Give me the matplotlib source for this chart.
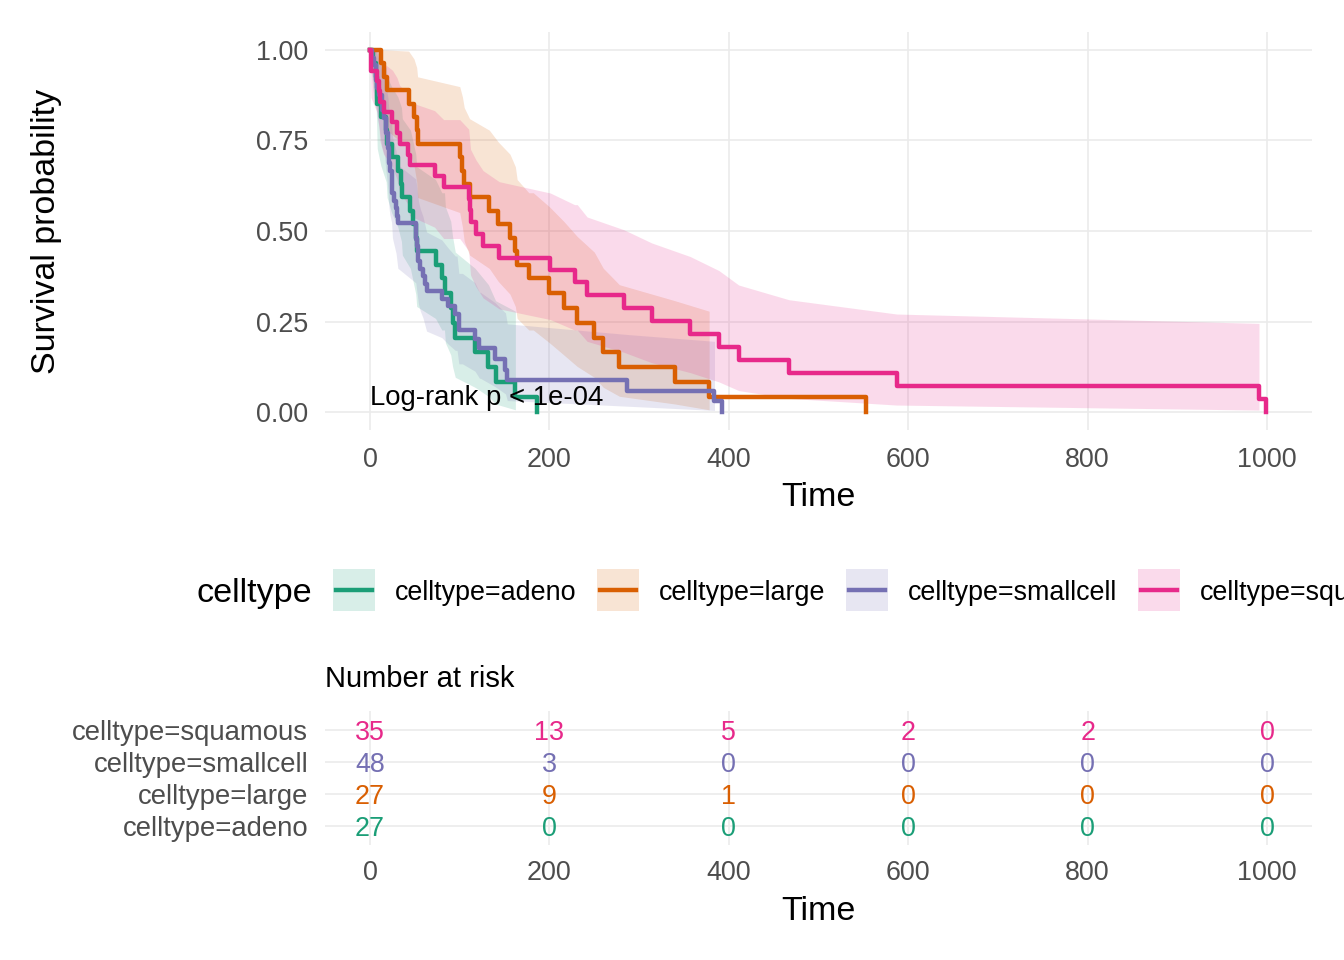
import numpy as np
import matplotlib
matplotlib.use("Agg")
import matplotlib.pyplot as plt
from matplotlib.patches import Rectangle
from matplotlib.lines import Line2D
from matplotlib.transforms import offset_copy

plt.rcParams['font.family'] = ['Liberation Sans', 'DejaVu Sans']

# ---------------- data (veteran lung cancer trial, by cell type) ----------------
groups = ["adeno", "large", "smallcell", "squamous"]
colors = ["#1B9E77", "#D95F02", "#7570B3", "#E7298A"]

adeno_time = [8, 92, 35, 117, 132, 12, 162, 3, 95, 24, 18, 83, 31, 51, 90, 52, 73,
              8, 36, 48, 7, 140, 186, 84, 19, 45, 80]
adeno_status = [1, 1, 1, 1, 1, 1, 1, 1, 1, 1, 1, 0, 1, 1, 1, 1, 1,
                1, 1, 1, 1, 1, 1, 1, 1, 1, 1]

large_time = [177, 162, 216, 553, 278, 12, 260, 200, 156, 182, 143, 105, 103, 250,
              100, 52, 164, 19, 53, 15, 43, 340, 133, 111, 231, 378, 49]
large_status = [1, 1, 1, 1, 1, 1, 1, 1, 1, 0, 1, 1, 1, 1,
                1, 1, 1, 1, 1, 1, 1, 1, 1, 1, 1, 1, 1]

smallcell_time = [30, 384, 4, 54, 13, 123, 97, 153, 59, 117, 16, 151, 22, 56, 21, 18,
                  139, 20, 31, 52, 287, 18, 51, 122, 27, 54, 7, 63, 392, 10, 25, 103,
                  21, 13, 87, 2, 20, 7, 24, 99, 8, 99, 61, 25, 95, 80, 51, 29]
smallcell_status = [1, 1, 1, 1, 1, 0, 0, 1, 1, 1, 1, 1, 1, 1, 1, 1,
                    1, 1, 1, 1, 1, 1, 1, 1, 1, 1, 1, 1, 1, 1, 1, 0,
                    1, 1, 1, 1, 1, 1, 1, 1, 1, 1, 1, 1, 1, 1, 1, 1]

squamous_time = [72, 411, 228, 126, 118, 10, 82, 110, 314, 100, 42, 8, 144, 25, 11,
                 999, 112, 87, 231, 242, 991, 111, 1, 587, 389, 33, 25, 357, 467, 201,
                 1, 30, 44, 283, 15]
squamous_status = [1, 1, 1, 1, 1, 1, 1, 1, 1, 0, 1, 1, 1, 0, 1,
                   1, 1, 0, 0, 1, 1, 1, 1, 1, 1, 1, 1, 1, 1, 1,
                   1, 1, 1, 1, 1]

risk_times = [0, 200, 400, 600, 800, 1000]
risk_adeno = [27, 0, 0, 0, 0, 0]
risk_large = [27, 9, 1, 0, 0, 0]
risk_smallcell = [48, 3, 0, 0, 0, 0]
risk_squamous = [35, 13, 5, 2, 2, 0]

y_ticks = [0.0, 0.25, 0.5, 0.75, 1.0]
y_ticklabels = ["0.00", "0.25", "0.50", "0.75", "1.00"]
pval_text = "Log-rank p < 1e-04"

times_all = [adeno_time, large_time, smallcell_time, squamous_time]
status_all = [adeno_status, large_status, smallcell_status, squamous_status]
risk_all = [risk_adeno, risk_large, risk_smallcell, risk_squamous]


def kaplan_meier(times, status):
    """KM estimate with log-type 95% CI, one row per distinct observed time."""
    t = np.asarray(times, float)
    s = np.asarray(status, int)
    xs, surv, lo, hi = [0.0], [1.0], [1.0], [1.0]
    S, var, dead = 1.0, 0.0, False
    for u in np.unique(t):
        n = np.sum(t >= u)
        d = np.sum((t == u) & (s == 1))
        if d > 0:
            S *= (n - d) / n
            if n > d:
                var += d / (n * (n - d))
            else:
                dead = True
        xs.append(u)
        surv.append(S)
        if dead:
            lo.append(np.nan); hi.append(np.nan)
        else:
            se = np.sqrt(var)
            lo.append(S * np.exp(-1.96 * se))
            hi.append(min(1.0, S * np.exp(1.96 * se)))
    return np.array(xs), np.array(surv), np.array(lo), np.array(hi)


W, H = 1344, 960
def fx(px): return px / W
def fy(py): return 1 - py / H

fig = plt.figure(figsize=(W / 100, H / 100), dpi=100)
grid_c = "#EBEBEB"
tick_c = "#4D4D4D"
fs_tick = 19.4
fs_title = 24.5

# ---------------- main survival panel ----------------
L, R = 325.2, 1311.9
ax = fig.add_axes([fx(L), fy(430.1), (R - L) / W, (430.1 - 31.9) / H])
ax.set_xlim(-50, 1050)
ax.set_ylim(-0.05, 1.05)
for sp in ax.spines.values():
    sp.set_visible(False)
ax.set_xticks(risk_times)
ax.set_yticks(y_ticks)
ax.set_yticklabels(y_ticklabels)
ax.grid(True, color=grid_c, lw=1.2)
ax.set_axisbelow(True)
ax.tick_params(length=0, labelsize=fs_tick, labelcolor=tick_c)
ax.tick_params(axis='x', pad=12.0)
ax.tick_params(axis='y', pad=12.2)

curves = [kaplan_meier(t, s) for t, s in zip(times_all, status_all)]
for (xs, sv, lo, hi), c in zip(curves, colors):
    ok = ~np.isnan(lo)
    ax.fill_between(xs[ok], lo[ok], hi[ok], color=c, alpha=0.17, lw=0, zorder=2)
for (xs, sv, lo, hi), c in zip(curves, colors):
    ax.step(xs, sv, where='post', color=c, lw=3.2, zorder=3)

ax.text(0, 0.019, pval_text, fontsize=19.8, color='black', ha='left',
        va='baseline', zorder=5)

fig.text(fx(818.5), fy(506), "Time", fontsize=fs_title, ha='center', va='baseline')
fig.text(fx(47), fy(231), "Survival probability", fontsize=fs_title, rotation=90,
         ha='center', va='center')

# ---------------- risk table ----------------
ax2 = fig.add_axes([fx(L), fy(845), (R - L) / W, (845 - 711) / H])
ax2.set_xlim(-50, 1050)
ax2.set_ylim(0.4, 4.6)
for sp in ax2.spines.values():
    sp.set_visible(False)
ax2.set_xticks(risk_times)
ax2.set_yticks([1, 2, 3, 4])
ax2.set_yticklabels(["celltype=" + g for g in groups])
ax2.grid(True, color=grid_c, lw=1.2)
ax2.set_axisbelow(True)
ax2.tick_params(length=0, labelsize=fs_tick, labelcolor=tick_c)
ax2.tick_params(axis='y', labelsize=19.8, pad=12.2)
ax2.tick_params(axis='x', pad=10.5)
num_tr = offset_copy(ax2.transData, fig=fig, y=-9.7, units='dots')
for i, (risk, c) in enumerate(zip(risk_all, colors)):
    for t, n in zip(risk_times, risk):
        ax2.text(t, i + 1, str(n), color=c, fontsize=fs_tick, ha='center',
                 va='baseline', transform=num_tr)

fig.text(fx(325), fy(687), "Number at risk", fontsize=21, ha='left', va='baseline')
fig.text(fx(818.5), fy(920), "Time", fontsize=fs_title, ha='center', va='baseline')

# ---------------- legend ----------------
fig.canvas.draw()
rend = fig.canvas.get_renderer()
ly = 590
tt = fig.text(fx(197), fy(ly), "celltype", fontsize=24.6, ha='left', va='center_baseline')
x = tt.get_window_extent(rend).x1 + 20
for g, c in zip(groups, colors):
    fig.add_artist(Rectangle((fx(x), fy(ly + 21)), 42 / W, 42 / H,
                             transform=fig.transFigure, facecolor=c, alpha=0.17,
                             edgecolor='none'))
    fig.add_artist(Line2D([fx(x + 3), fx(x + 39)], [fy(ly), fy(ly)],
                          transform=fig.transFigure, color=c, lw=3.2))
    lt = fig.text(fx(x + 62), fy(ly), "celltype=" + g, fontsize=fs_tick,
                  ha='left', va='center_baseline')
    x = lt.get_window_extent(rend).x1 + 20.5

fig.savefig("out.png", dpi=100)
